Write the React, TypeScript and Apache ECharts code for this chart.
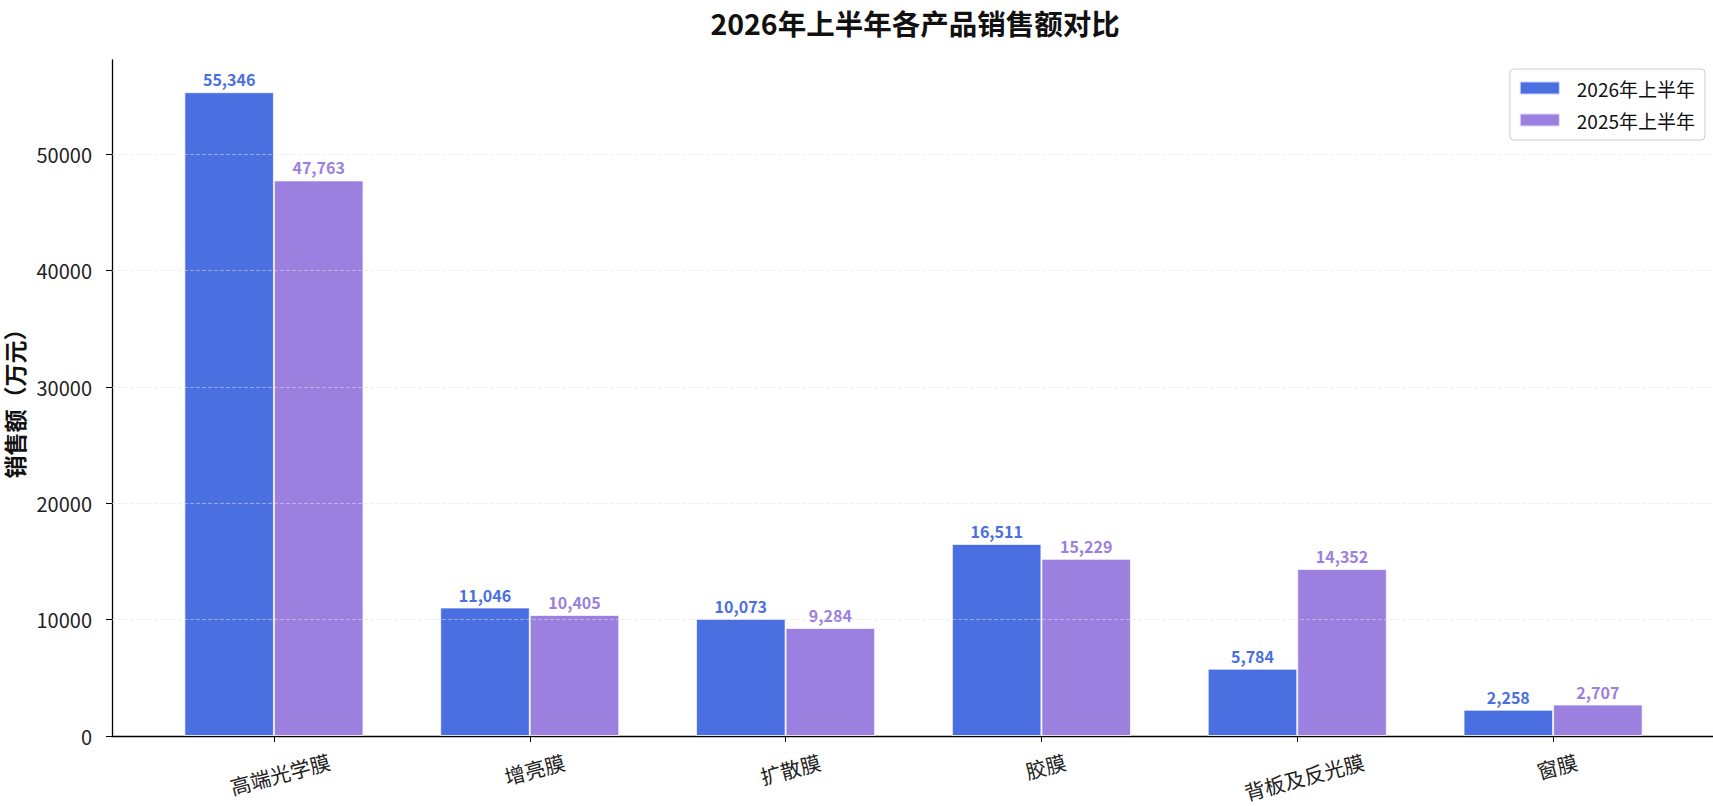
import React, { useEffect, useRef } from 'react';
import * as echarts from 'echarts';

const categories = ['高端光学膜', '增亮膜', '扩散膜', '胶膜', '背板及反光膜', '窗膜'];
const sales2026 = [55346, 11046, 10073, 16511, 5784, 2258];
const sales2025 = [47763, 10405, 9284, 15229, 14352, 2707];
const yTicks = [0, 10000, 20000, 30000, 40000, 50000];
const seriesNames = ['2026年上半年', '2025年上半年'];
const titleText = '2026年上半年各产品销售额对比';
const yName = '销售额（万元）';

const FONT = "'Noto Sans CJK SC', 'Noto Sans', sans-serif";
const BLUE = '#4A6FE1';
const PURPLE = '#9B80E0';
const XFS = 20.5;

export default function App() {
  const ref = useRef<HTMLDivElement>(null);
  useEffect(() => {
    document.body.style.margin = '0';
    const chart = echarts.init(ref.current!, null, { renderer: 'svg' });
    const yMax = Math.max(...sales2026, ...sales2025) * 1.05;
    const rich: Record<string, any> = {};
    categories.forEach((c) => {
      const n = c.length;
      rich['p' + n] = {
        fontSize: XFS,
        fontFamily: FONT,
        color: '#222',
        padding: [Math.round(((n * XFS) / 2) * Math.sin((15 * Math.PI) / 180)), 0, 0, 0],
      };
    });
    const fmt = (v: number) => v.toLocaleString('en-US');
    const barLabel = (color: string) => ({
      show: true,
      position: 'top',
      distance: 5,
      formatter: (p: any) => fmt(p.value),
      fontSize: 16,
      fontWeight: 'bold',
      color,
      fontFamily: FONT,
    });
    chart.setOption({
      animation: false,
      textStyle: { fontFamily: FONT },
      title: {
        text: titleText,
        left: 910,
        textAlign: 'center',
        top: 3,
        textStyle: { fontSize: 28.5, fontWeight: 'bold', color: '#111', fontFamily: FONT },
      },
      legend: {
        data: seriesNames,
        orient: 'vertical',
        right: 8,
        top: 69,
        itemWidth: 40,
        itemHeight: 13,
        itemGap: 12,
        icon: 'rect',
        padding: [9, 10, 10, 9],
        borderColor: '#cccccc',
        borderWidth: 1,
        borderRadius: 4,
        textStyle: { fontSize: 19, lineHeight: 20, color: '#111', fontFamily: FONT, padding: [0, 0, 0, 12] },
      },
      grid: [
        { left: 112, right: 0, top: 60, bottom: 70, containLabel: false, outerBoundsMode: 'none' },
        { left: 146, right: 32, top: 60, bottom: 70, containLabel: false, outerBoundsMode: 'none' },
      ],
      xAxis: [
        {
          gridIndex: 0,
          type: 'value',
          min: 0,
          max: 1,
          position: 'bottom',
          axisLine: { show: true, onZero: false, lineStyle: { color: '#000', width: 1.3 } },
          axisTick: { show: false },
          axisLabel: { show: false },
          splitLine: { show: false },
        },
        {
          gridIndex: 1,
          type: 'category',
          data: categories,
          position: 'bottom',
          boundaryGap: true,
          axisLine: { show: false },
          axisTick: { show: true, alignWithLabel: true, length: 6, lineStyle: { color: '#000', width: 1 } },
          axisLabel: {
            rotate: 15,
            align: 'center',
            verticalAlign: 'top',
            margin: 15,
            interval: 0,
            formatter: (v: string) => `{p${v.length}|${v}}`,
            rich,
          },
        },
      ],
      yAxis: [
        {
          gridIndex: 0,
          type: 'value',
          min: 0,
          max: yMax,
          interval: 10000,
          name: yName,
          nameLocation: 'middle',
          nameGap: 80,
          nameTextStyle: { fontSize: 23, fontWeight: 'bold', color: '#111', fontFamily: FONT },
          axisLine: { show: true, lineStyle: { color: '#000', width: 1.3 } },
          axisTick: { show: true, length: 6, customValues: yTicks, lineStyle: { color: '#000', width: 1 } },
          axisLabel: {
            customValues: yTicks,
            fontSize: 20,
            color: '#222',
            margin: 20,
            fontFamily: FONT,
            formatter: (v: number) => String(v),
          },
          splitLine: { show: false },
        },
        {
          gridIndex: 1,
          type: 'value',
          min: 0,
          max: yMax,
          show: false,
          splitLine: { show: false },
        },
      ],
      series: [
        {
          name: seriesNames[0],
          type: 'bar',
          xAxisIndex: 1,
          yAxisIndex: 1,
          data: sales2026,
          barWidth: '35%',
          barGap: '0%',
          itemStyle: { color: BLUE, borderColor: 'rgba(255,255,255,0.7)', borderWidth: 1 },
          label: barLabel(BLUE),
        },
        {
          name: seriesNames[1],
          type: 'bar',
          xAxisIndex: 1,
          yAxisIndex: 1,
          data: sales2025,
          barWidth: '35%',
          barGap: '0%',
          itemStyle: { color: PURPLE, borderColor: 'rgba(255,255,255,0.7)', borderWidth: 1 },
          label: barLabel(PURPLE),
        },
        {
          name: 'grid-lines',
          type: 'line',
          xAxisIndex: 0,
          yAxisIndex: 0,
          data: [],
          z: 5,
          silent: true,
          markLine: {
            silent: true,
            symbol: ['none', 'none'],
            label: { show: false },
            lineStyle: { color: 'rgba(225,225,225,0.5)', width: 1, type: [4, 2] },
            data: yTicks.filter((v) => v > 0).map((v) => ({ yAxis: v })),
          },
        },
      ],
    });
    return () => chart.dispose();
  }, []);
  return <div ref={ref} style={{ width: 1713, height: 806 }} />;
}
